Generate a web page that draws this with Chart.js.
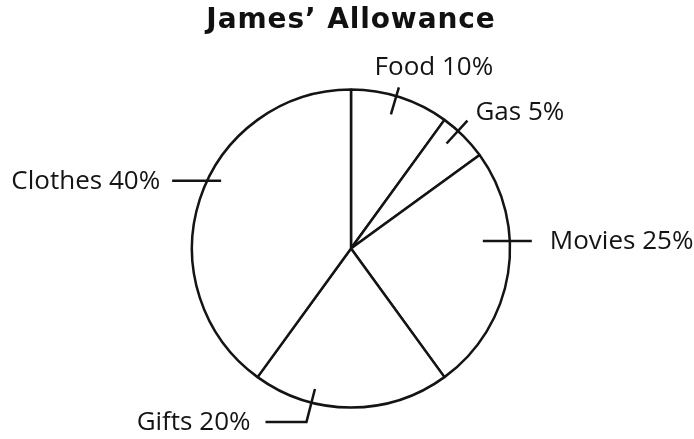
<!DOCTYPE html>
<html>
<head>
<meta charset="utf-8">
<title>James’ Allowance</title>
<script src="https://cdn.jsdelivr.net/npm/chart.js@4.4.1/dist/chart.umd.min.js"></script>
<style>
  html, body { margin: 0; padding: 0; background: #ffffff; }
  #wrap { width: 694px; height: 439px; }
  canvas { display: block; }
</style>
</head>
<body>
<div id="wrap"><canvas id="allowance" width="694" height="439"></canvas></div>
<script>
// How James spends his allowance (percent of total), clockwise from 12 o'clock
const chartTitle = 'James’ Allowance';
const categories = ['Food', 'Gas', 'Movies', 'Gifts', 'Clothes'];
const shares = [10, 5, 25, 20, 40];

const INK = '#141414';
const LABEL_FONT = '400 26px "Open Sans", "Noto Sans", sans-serif';
const TITLE_FONT = 'bold 28px "DejaVu Sans", Verdana, sans-serif';

// Leader-line styling per slice: where on the arc the tick sits (fraction of the
// slice's sweep), what kind of tick it is and how the text hangs off its end.
const callouts = [
  { at: 0.46, kind: 'radial', inset: 19, outset: 9, text: { dx: 35, dy: -20, align: 'center' } },
  { at: 0.35, kind: 'radial', inset: 17, outset: 14, text: { dx: 8, dy: -8, align: 'left' } },
  { at: 0.37, kind: 'horizontal', inset: 27, outset: 22, text: { dx: 18, dy: 1, align: 'left' } },
  { at: 0.70, kind: 'elbow', inset: 14, outset: 20, run: 41, text: { dx: -15, dy: 1, align: 'right' } },
  { at: 0.55, kind: 'horizontal', inset: 14, outset: 35, text: { dx: -12, dy: 1, align: 'right' } }
];

const paperPlugin = {
  id: 'paper',
  beforeDraw(chart) {
    const ctx = chart.ctx;
    ctx.save();
    ctx.fillStyle = '#ffffff';
    ctx.fillRect(0, 0, chart.width, chart.height);
    ctx.restore();
  }
};

const titlePlugin = {
  id: 'headline',
  afterDraw(chart) {
    const ctx = chart.ctx;
    ctx.save();
    ctx.font = TITLE_FONT;
    ctx.fillStyle = '#111111';
    ctx.textAlign = 'center';
    ctx.textBaseline = 'alphabetic';
    if ('letterSpacing' in ctx) ctx.letterSpacing = '0.9px';
    ctx.fillText(chartTitle, 351, 28);
    ctx.restore();
  }
};

const calloutPlugin = {
  id: 'callouts',
  afterDatasetsDraw(chart) {
    const ctx = chart.ctx;
    const meta = chart.getDatasetMeta(0);
    ctx.save();
    ctx.strokeStyle = INK;
    ctx.lineWidth = 2.5;
    ctx.lineCap = 'butt';
    ctx.fillStyle = '#141414';
    ctx.font = LABEL_FONT;
    ctx.textBaseline = 'middle';

    meta.data.forEach((arc, i) => {
      const c = callouts[i];
      const { x, y, startAngle, endAngle, outerRadius } =
        arc.getProps(['x', 'y', 'startAngle', 'endAngle', 'outerRadius'], true);
      const a = startAngle + c.at * (endAngle - startAngle);
      const cos = Math.cos(a), sin = Math.sin(a);
      let end;
      ctx.beginPath();
      if (c.kind === 'horizontal') {
        const py = y + outerRadius * sin;
        const px = x + outerRadius * cos;
        const dir = cos >= 0 ? 1 : -1;
        ctx.moveTo(px - dir * c.inset, py);
        end = { x: px + dir * c.outset, y: py };
        ctx.lineTo(end.x, end.y);
      } else {
        const r0 = outerRadius - c.inset;
        const r1 = outerRadius + c.outset;
        ctx.moveTo(x + r0 * cos, y + r0 * sin);
        end = { x: x + r1 * cos, y: y + r1 * sin };
        ctx.lineTo(end.x, end.y);
        if (c.kind === 'elbow') {
          const dir = cos >= 0 ? 1 : -1;
          end = { x: end.x + dir * c.run, y: end.y };
          ctx.lineTo(end.x, end.y);
        }
      }
      ctx.stroke();

      ctx.textAlign = c.text.align;
      const label = categories[i] + ' ' + shares[i] + '%';
      ctx.fillText(label, end.x + c.text.dx, end.y + c.text.dy);
    });
    ctx.restore();
  }
};

new Chart(document.getElementById('allowance'), {
  type: 'pie',
  data: {
    labels: categories,
    datasets: [{
      data: shares,
      backgroundColor: '#ffffff',
      borderColor: INK,
      borderWidth: 2.5,
      radius: 159
    }]
  },
  options: {
    responsive: false,
    animation: false,
    events: [],
    layout: { padding: { left: 8, right: 0, top: 60, bottom: 2 } },
    plugins: {
      legend: { display: false },
      tooltip: { enabled: false },
      title: { display: false }
    }
  },
  plugins: [paperPlugin, calloutPlugin, titlePlugin]
});
</script>
</body>
</html>
